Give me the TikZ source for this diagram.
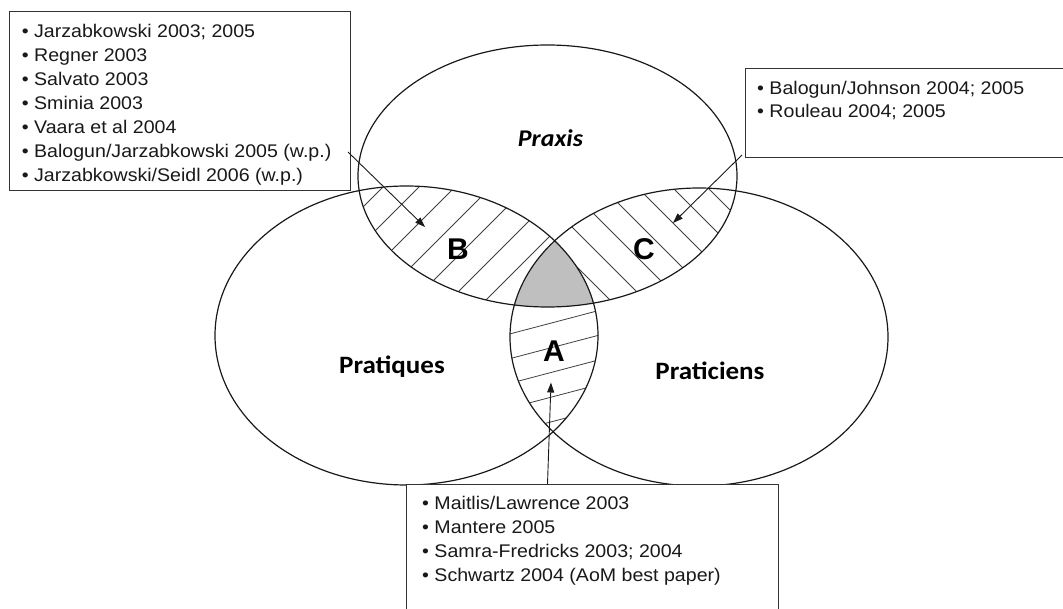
\documentclass[tikz,border=0pt]{standalone}
\usepackage{fontspec}
\setmainfont{Liberation Sans}
\newfontfamily\boxfont[FakeStretch=1.07]{Liberation Sans}
\newfontfamily\labfont[FakeStretch=1.08]{Carlito}
\newfontfamily\letfont{Liberation Sans}
\usetikzlibrary{arrows.meta}
\begin{document}
\begin{tikzpicture}[x=1pt,y=-1pt,
  venn/.style={line width=1.2pt, draw=black!90},
  hatchline/.style={line width=0.8pt, draw=black!75},
  refbox/.style={draw=black!80, line width=1.2pt, fill=white, anchor=north west, inner sep=0pt},
  reftext/.style={anchor=north west, inner sep=0pt, align=left, text=black!90},
  arr/.style={line width=0.9pt, draw=black!90, -{Triangle[length=10pt,width=7pt]}},
  setlab/.style={anchor=base, inner sep=0pt},
  zone/.style={font=\letfont\bfseries\fontsize{30}{36}\selectfont, inner sep=0pt, anchor=base}
]
\useasboundingbox (0,0) rectangle (1063,609);
\def\toppath{(547.5,176) ellipse [x radius=189.5, y radius=131]}
\def\leftpath{(406.5,335.5) ellipse [x radius=191.5, y radius=149.5]}
\def\rightpath{(699,337) ellipse [x radius=189, y radius=149]}
% hatch B (top & left)
\begin{scope}
  \clip \toppath; \clip \leftpath;
  \foreach \c in {534,570,...,858} \draw[hatchline] (\c-170,170) -- (\c-330,330);
\end{scope}
% hatch C (top & right)
\begin{scope}
  \clip \toppath; \clip \rightpath;
  \foreach \c in {310,345,...,590} \draw[hatchline] (\c+170,170) -- (\c+330,330);
\end{scope}
% hatch A (left & right)
\begin{scope}
  \clip \leftpath; \clip \rightpath;
  \foreach \c in {468,492.7,...,570} \draw[hatchline] (480,\c-126.2) -- (630,\c-165.7);
\end{scope}
% triple intersection
\begin{scope}
  \clip \toppath; \clip \leftpath;
  \fill[black!25] \rightpath;
\end{scope}
\draw[venn] \toppath;
\draw[venn] \leftpath;
\draw[venn] \rightpath;
% labels
\node[setlab, font=\labfont\bfseries\itshape\fontsize{24}{28}\selectfont] (praxis) at (550.5,146.7) {Praxis};
\node[setlab, font=\labfont\bfseries\fontsize{25}{30}\selectfont] (pratiques) at (392,373.3) {Pratiques};
\node[setlab, font=\labfont\bfseries\fontsize{25}{30}\selectfont] (praticiens) at (710,379.3) {Praticiens};
\node[zone] (zB) at (458,259.3) {B};
\node[zone] (zC) at (644,260) {C};
\node[zone] (zA) at (554,362) {A};
% reference boxes
\node[refbox, minimum width=341pt, minimum height=179pt] (tl) at (9,11) {};
\node[reftext, font=\boxfont\fontsize{18.3}{24}\selectfont] (tltext) at (21.7,20.5)
  {\strut• Jarzabkowski 2003; 2005\\• Regner 2003\\• Salvato 2003\\• Sminia 2003\\• Vaara et al 2004\\• Balogun/Jarzabkowski 2005 (w.p.)\\• Jarzabkowski/Seidl 2006 (w.p.)};
\node[refbox, minimum width=340pt, minimum height=88.4pt] (tr) at (745,68.3) {};
\node[reftext, font=\boxfont\fontsize{18.3}{23}\selectfont] (trtext) at (757,78.2)
  {\strut• Balogun/Johnson 2004; 2005\\• Rouleau 2004; 2005};
\node[refbox, minimum width=372.3pt, minimum height=140pt] (bot) at (405.7,484) {};
\node[reftext, font=\boxfont\fontsize{18.3}{24.2}\selectfont] (bottext) at (422,492.1)
  {\strut• Maitlis/Lawrence 2003\\• Mantere 2005\\• Samra-Fredricks 2003; 2004\\• Schwartz 2004 (AoM best paper)};
% arrows
\coordinate (bfrom) at (348,152);
\coordinate (bto) at (425,227);
\coordinate (cfrom) at (742,155);
\coordinate (cto) at (673,223);
\coordinate (afrom) at (547.5,484);
\coordinate (ato) at (551,382.5);
\draw[arr] (bfrom) -- (bto);
\draw[arr] (cfrom) -- (cto);
\draw[arr] (afrom) -- (ato);
\end{tikzpicture}
\end{document}
